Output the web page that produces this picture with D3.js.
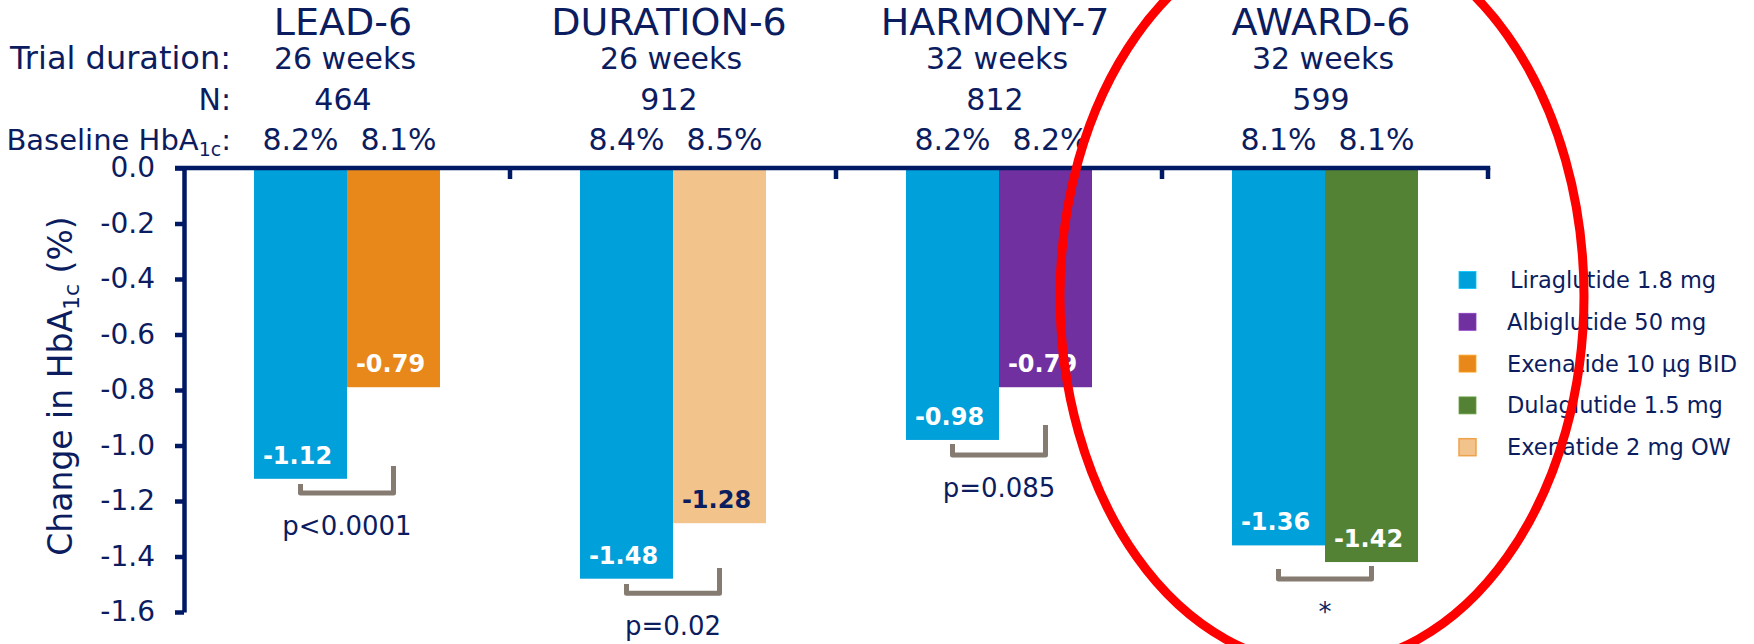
<!DOCTYPE html>
<html>
<head>
<meta charset="utf-8">
<script src="https://cdn.jsdelivr.net/npm/d3@7/dist/d3.min.js"></script>
<style>
  html, body { margin: 0; padding: 0; background: #ffffff; }
  svg { display: block; font-family: "DejaVu Sans", Verdana, sans-serif; }
</style>
</head>
<body>
<svg id="chart" width="1754" height="644"></svg>
<script>
// ---------- data ----------
const trials = ["LEAD-6", "DURATION-6", "HARMONY-7", "AWARD-6"];
const durations = ["26 weeks", "26 weeks", "32 weeks", "32 weeks"];
const nValues = ["464", "912", "812", "599"];
const baselineLira = ["8.2%", "8.4%", "8.2%", "8.1%"];
const baselineComp = ["8.1%", "8.5%", "8.2%", "8.1%"];
const liraValues = [-1.12, -1.48, -0.98, -1.36];
const compNames = ["Exenatide 10 µg BID", "Exenatide 2 mg OW", "Albiglutide 50 mg", "Dulaglutide 1.5 mg"];
const compValues = [-0.79, -1.28, -0.79, -1.42];
const pValues = ["p<0.0001", "p=0.02", "p=0.085", "*"];
// bracket annotation levels (in % change units): bar, left leg top, right leg top
const bracketLevel = [-1.171, -1.532, -1.034, -1.481];
const bracketLeftTop = [-1.139, -1.499, -0.995, -1.445];
const bracketRightTop = [-1.074, -1.441, -0.926, -1.434];
const legendSeries = ["Liraglutide 1.8 mg", "Albiglutide 50 mg", "Exenatide 10 µg BID", "Dulaglutide 1.5 mg", "Exenatide 2 mg OW"];
const yTicks = [0, -0.2, -0.4, -0.6, -0.8, -1.0, -1.2, -1.4, -1.6];

// ---------- styles ----------
const navy = "#0b1c5f";
const axisColor = "#001965";
const colors = {
  "Liraglutide 1.8 mg": "#00A0DA",
  "Albiglutide 50 mg": "#7030A0",
  "Exenatide 10 µg BID": "#E8871A",
  "Dulaglutide 1.5 mg": "#548235",
  "Exenatide 2 mg OW": "#F2C38B"
};
const legendStroke = { "Exenatide 2 mg OW": "#EFA24C" };
const labelColor = name => name === "Exenatide 2 mg OW" ? navy : "#ffffff";

const svg = d3.select("#chart");

// ---------- scales ----------
const y = d3.scaleLinear().domain([0, -1.6]).range([168, 612]);
const x = d3.scaleBand().domain(trials).range([184, 1488]).padding(0);
const barW = 93;
const inner = d3.scaleBand().domain(["lira", "comp"])
  .range([x.bandwidth() / 2 - barW, x.bandwidth() / 2 + barW]).padding(0);

const rows = trials.map((t, i) => ({
  trial: t, i,
  bars: [
    { key: "lira", name: "Liraglutide 1.8 mg", value: liraValues[i], base: baselineLira[i] },
    { key: "comp", name: compNames[i], value: compValues[i], base: baselineComp[i] }
  ]
}));
const barCenter = (t, k) => x(t) + inner(k) + inner.bandwidth() / 2;

// ---------- bars ----------
const g = svg.append("g");
rows.forEach(r => {
  r.bars.forEach(b => {
    g.append("rect")
      .attr("x", x(r.trial) + inner(b.key))
      .attr("y", y(0))
      .attr("width", inner.bandwidth())
      .attr("height", y(b.value) - y(0))
      .attr("fill", colors[b.name]);
    g.append("text")
      .attr("x", barCenter(r.trial, b.key) - 3)
      .attr("y", y(b.value) - 15)
      .attr("text-anchor", "middle")
      .attr("font-size", 24)
      .attr("font-weight", "bold")
      .attr("fill", labelColor(b.name))
      .text(b.value.toFixed(2));
    // baseline HbA1c per bar
    svg.append("text")
      .attr("x", barCenter(r.trial, b.key) + (b.key === "comp" ? 5 : 0))
      .attr("y", 150)
      .attr("text-anchor", "middle")
      .attr("font-size", 30)
      .attr("fill", navy)
      .text(b.base);
  });
});

// ---------- axes ----------
const yAxis = d3.axisLeft(y).tickValues(yTicks).tickSize(9).tickSizeOuter(0).tickPadding(20)
  .tickFormat(d => d.toFixed(1));
const yg = svg.append("g").attr("transform", `translate(${x.range()[0]},0)`).call(yAxis);
yg.select(".domain").attr("stroke", axisColor).attr("stroke-width", 4.5);
yg.selectAll(".tick line").attr("stroke", axisColor).attr("stroke-width", 4.5);
yg.selectAll(".tick text").attr("fill", navy).attr("font-size", 28)
  .attr("font-family", "DejaVu Sans, Verdana, sans-serif");

// x axis: line at zero with boundary ticks pointing down
const x0 = x.range()[0] - 9, x1 = x.range()[1];
svg.append("line").attr("x1", x0).attr("x2", x1 + 2.25).attr("y1", y(0)).attr("y2", y(0))
  .attr("stroke", axisColor).attr("stroke-width", 4.5);
trials.forEach(t => {
  const bx = x(t) + x.step();
  svg.append("line").attr("x1", bx).attr("x2", bx).attr("y1", y(0)).attr("y2", y(0) + 11)
    .attr("stroke", axisColor).attr("stroke-width", 4.5);
});

// ---------- brackets & p-values ----------
rows.forEach(r => {
  const lx = barCenter(r.trial, "lira"), rx = barCenter(r.trial, "comp");
  const yb = y(bracketLevel[r.i]);
  svg.append("path")
    .attr("d", `M${lx},${y(bracketLeftTop[r.i])}V${yb}H${rx}V${y(bracketRightTop[r.i])}`)
    .attr("fill", "none").attr("stroke", "#857B70").attr("stroke-width", 5)
    .attr("stroke-linejoin", "round");
  svg.append("text")
    .attr("x", x(r.trial) + x.bandwidth() / 2)
    .attr("y", yb + 42)
    .attr("text-anchor", "middle")
    .attr("font-size", 26)
    .attr("fill", navy)
    .text(pValues[r.i]);
});

// ---------- header rows ----------
rows.forEach(r => {
  const cx = x(r.trial) + x.bandwidth() / 2;
  svg.append("text").attr("x", cx - 4).attr("y", 35).attr("text-anchor", "middle")
    .attr("font-size", 38).attr("fill", navy).text(r.trial);
  svg.append("text").attr("x", cx - 2).attr("y", 69).attr("text-anchor", "middle")
    .attr("font-size", 30).attr("fill", navy).text(durations[r.i]);
  svg.append("text").attr("x", cx - 4).attr("y", 110).attr("text-anchor", "middle")
    .attr("font-size", 30).attr("fill", navy).text(nValues[r.i]);
});
svg.append("text").attr("x", 231).attr("y", 69).attr("text-anchor", "end")
  .attr("font-size", 32).attr("fill", navy).text("Trial duration:");
svg.append("text").attr("x", 231).attr("y", 110).attr("text-anchor", "end")
  .attr("font-size", 30).attr("fill", navy).text("N:");
const bl = svg.append("text").attr("x", 231).attr("y", 150).attr("text-anchor", "end")
  .attr("font-size", 29).attr("fill", navy);
bl.append("tspan").text("Baseline HbA");
bl.append("tspan").attr("font-size", 19).attr("dy", 6).text("1c");
bl.append("tspan").attr("dy", -6).text(":");

// ---------- y title ----------
const yt = svg.append("text").attr("transform", "translate(72,386) rotate(-90)")
  .attr("text-anchor", "middle").attr("font-size", 33).attr("fill", navy);
yt.append("tspan").text("Change in HbA");
yt.append("tspan").attr("font-size", 22).attr("dy", 7).text("1c");
yt.append("tspan").attr("dy", -7).text(" (%)");

// ---------- legend ----------
const lg = svg.append("g");
legendSeries.forEach((s, i) => {
  const cy = 280 + i * 41.8;
  lg.append("rect").attr("x", 1459).attr("y", cy - 8.5).attr("width", 17).attr("height", 17)
    .attr("fill", colors[s])
    .attr("stroke", legendStroke[s] || d3.color(colors[s]).brighter(0.6))
    .attr("stroke-width", legendStroke[s] ? 1.5 : 0.8);
  lg.append("text").attr("x", i === 0 ? 1510 : 1507).attr("y", cy + 8)
    .attr("font-size", 22.5).attr("fill", navy).text(s);
});

// ---------- red highlight ellipse ----------
svg.append("ellipse")
  .attr("cx", 1322).attr("cy", 296).attr("rx", 262).attr("ry", 369)
  .attr("fill", "none").attr("stroke", "#FF0000").attr("stroke-width", 9);
</script>
</body>
</html>
